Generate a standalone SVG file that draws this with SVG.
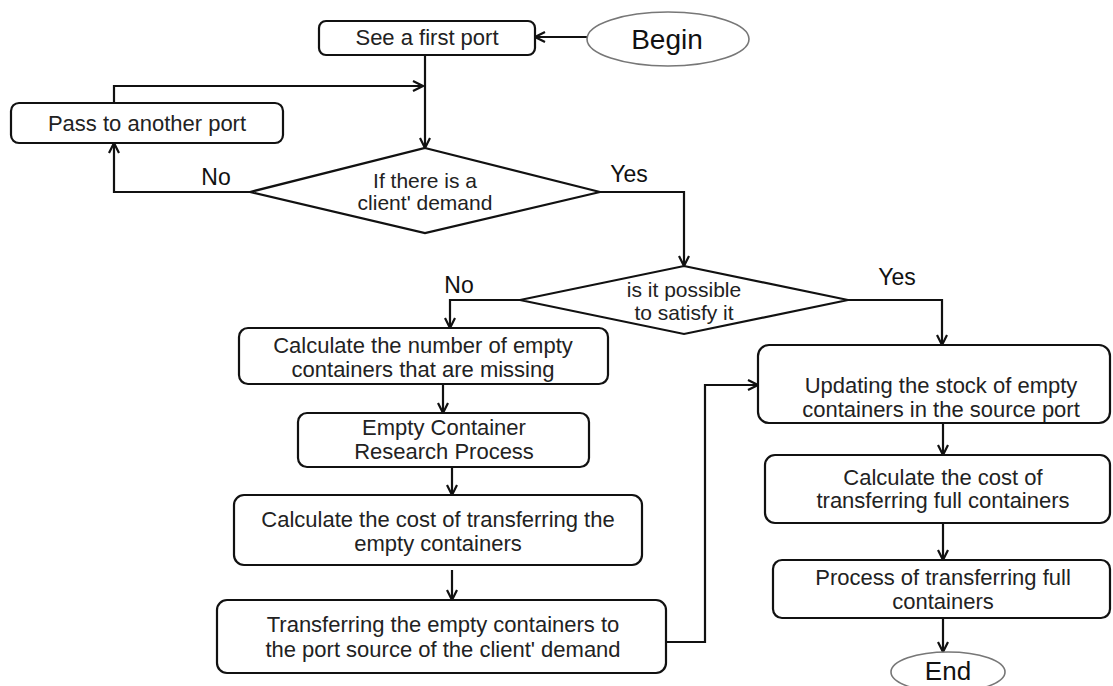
<svg xmlns="http://www.w3.org/2000/svg" width="1113" height="686" viewBox="0 0 1113 686">
<style>
  .box { fill: #fff; stroke: #111; stroke-width: 2.2; }
  .term { fill: #fff; stroke: #777; stroke-width: 1.6; }
  .t { font-family: "Liberation Sans", Arial, sans-serif; font-size: 22px; fill: #222; text-anchor: middle; }
  .dt { font-family: "Liberation Sans", Arial, sans-serif; font-size: 21px; fill: #222; text-anchor: middle; }
  .lbl { font-family: "Liberation Sans", Arial, sans-serif; font-size: 23px; fill: #111; text-anchor: middle; }
  .big { font-family: "Liberation Sans", Arial, sans-serif; font-size: 28px; fill: #111; text-anchor: middle; }
  .c { fill: none; stroke: #111; stroke-width: 2.2; marker-end: url(#arr); }
</style>
<defs>
  <marker id="arr" viewBox="0 0 12 12" refX="11" refY="6" markerWidth="12" markerHeight="12" markerUnits="userSpaceOnUse" orient="auto">
    <path d="M1,1 L11,6 L1,11" fill="none" stroke="#111" stroke-width="2.2"/>
  </marker>
</defs>
<rect width="1113" height="686" fill="#fff"/>

<g id="connectors">
  <line class="c" x1="587" y1="37" x2="535" y2="37"/>
  <line class="c" x1="425" y1="55" x2="425" y2="148"/>
  <polyline class="c" points="250,192 114,192 114,143"/>
  <polyline class="c" points="114,103 114,86 423,86"/>
  <polyline class="c" points="600,192 684,192 684,266"/>
  <polyline class="c" points="520,300 450,300 450,328"/>
  <polyline class="c" points="848,300 942,300 942,345"/>
  <line class="c" x1="443" y1="384" x2="443" y2="413"/>
  <line class="c" x1="452" y1="467" x2="452" y2="495"/>
  <line class="c" x1="452" y1="570" x2="452" y2="600"/>
  <polyline class="c" points="666,642 705,642 705,385 758,385"/>
  <line class="c" x1="943" y1="423" x2="943" y2="455"/>
  <line class="c" x1="943" y1="523" x2="943" y2="560"/>
  <line class="c" x1="943" y1="618" x2="943" y2="652"/>
  <text class="lbl" x="216" y="185">No</text>
  <text class="lbl" x="629" y="182">Yes</text>
  <text class="lbl" x="459" y="293">No</text>
  <text class="lbl" x="897" y="285">Yes</text>
</g>

<g id="begin">
  <ellipse class="term" cx="668" cy="39" rx="81" ry="27"/>
  <text class="big" x="667" y="49">Begin</text>
</g>

<g id="see-first-port">
  <rect class="box" x="319" y="21" width="216" height="34" rx="7"/>
  <text class="t" x="427" y="45">See a first port</text>
</g>

<g id="pass-another-port">
  <rect class="box" x="11" y="103" width="272" height="40" rx="8"/>
  <text class="t" x="147" y="131">Pass to another port</text>
</g>

<g id="decision-demand">
  <polygon class="box" points="425,148 600,192 425,233 250,192"/>
  <text class="dt" x="425" y="188">If there is a</text>
  <text class="dt" x="425" y="210">client' demand</text>
</g>

<g id="decision-satisfy">
  <polygon class="box" points="684,266 848,300 684,334 520,300"/>
  <text class="dt" x="684" y="297">is it possible</text>
  <text class="dt" x="684" y="320">to satisfy it</text>
</g>

<g id="calc-number">
  <rect class="box" x="239" y="328" width="369" height="56" rx="9"/>
  <text class="t" x="423" y="353">Calculate the number of empty</text>
  <text class="t" x="423" y="377">containers that are missing</text>
</g>

<g id="research-process">
  <rect class="box" x="298" y="413" width="291" height="54" rx="9"/>
  <text class="t" x="444" y="435">Empty Container</text>
  <text class="t" x="444" y="459">Research Process</text>
</g>

<g id="calc-cost-empty">
  <rect class="box" x="234" y="495" width="408" height="70" rx="10"/>
  <text class="t" x="438" y="527">Calculate the cost of transferring the</text>
  <text class="t" x="438" y="551">empty containers</text>
</g>

<g id="transfer-empty">
  <rect class="box" x="217" y="600" width="449" height="73" rx="10"/>
  <text class="t" x="443" y="632">Transferring the empty containers to</text>
  <text class="t" x="443" y="657">the port source of the client' demand</text>
</g>

<g id="update-stock">
  <rect class="box" x="758" y="345" width="352" height="78" rx="11"/>
  <text class="t" x="941" y="393">Updating the stock of empty</text>
  <text class="t" x="941" y="417">containers in the source port</text>
</g>

<g id="calc-cost-full">
  <rect class="box" x="765" y="455" width="345" height="68" rx="10"/>
  <text class="t" x="943" y="485">Calculate the cost of</text>
  <text class="t" x="943" y="508">transferring full containers</text>
</g>

<g id="process-full">
  <rect class="box" x="773" y="560" width="337" height="58" rx="9"/>
  <text class="t" x="943" y="585">Process of transferring full</text>
  <text class="t" x="943" y="609">containers</text>
</g>

<g id="end">
  <ellipse class="term" cx="948" cy="672" rx="57" ry="20"/>
  <text class="big" x="948" y="680" style="font-size:26px">End</text>
</g>
</svg>
